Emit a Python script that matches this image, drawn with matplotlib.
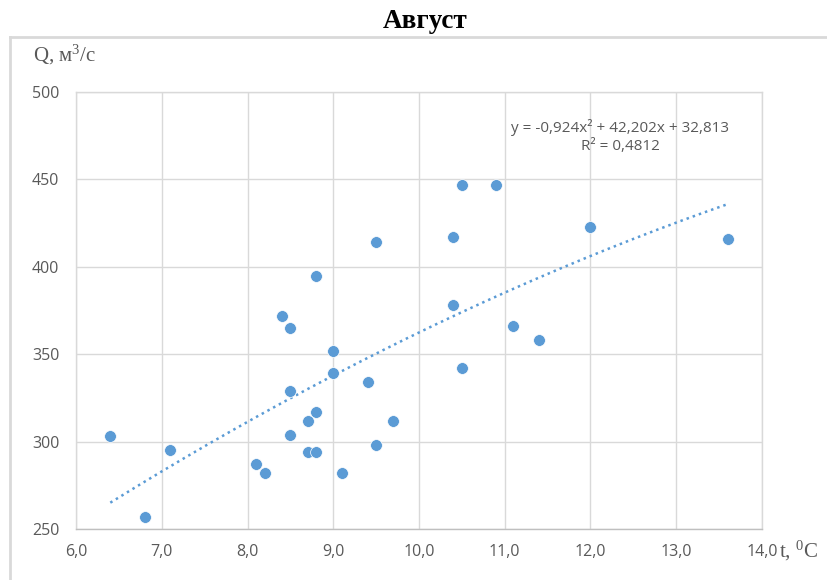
import matplotlib
matplotlib.use("Agg")
import matplotlib.pyplot as plt
from matplotlib.lines import Line2D
import numpy as np

title = "Август"
t_values = [6.4, 6.8, 7.1, 8.1, 8.2, 8.4, 8.5, 8.5, 8.5, 8.8, 8.8, 8.7, 8.7, 8.8, 9.0,
            9.0, 9.1, 9.4, 9.5, 9.5, 9.7, 10.4, 10.4, 10.5, 10.5, 10.9, 11.1, 11.4, 12.0, 13.6]
q_values = [303, 257, 295, 287, 282, 372, 365, 329, 304, 395, 317, 312, 294, 294, 352,
            339, 282, 334, 414, 298, 312, 417, 378, 447, 342, 447, 366, 358, 423, 416]
trend_coef = [-0.924, 42.202, 32.813]
r2 = 0.4812
x_ticks = [6.0, 7.0, 8.0, 9.0, 10.0, 11.0, 12.0, 13.0, 14.0]
y_ticks = [250, 300, 350, 400, 450, 500]

blue = "#5B9BD5"
grey_txt = "#595959"
grid_c = "#D9D9D9"

fig = plt.figure(figsize=(8.28, 5.8), dpi=100)
ax = fig.add_axes([76/828, 1-529/580, (762-76)/828, (529-92)/580])

ax.scatter(t_values, q_values, s=72, color=blue, edgecolors="white", linewidths=0.5, zorder=3)

xt = np.linspace(min(t_values), max(t_values), 200)
yt = np.polyval(trend_coef, xt)
ax.plot(xt, yt, linestyle=(0, (1, 1.6)), color=blue, linewidth=1.8, zorder=2)

ax.set_xlim(6.0, 14.0)
ax.set_ylim(250, 500)
ax.set_xticks(x_ticks)
ax.set_yticks(y_ticks)
ax.set_xticklabels([f"{v:.1f}".replace(".", ",") for v in x_ticks],
                   fontfamily="Open Sans", fontsize=11.5, color=grey_txt)
ax.set_yticklabels([str(v) for v in y_ticks],
                   fontfamily="Open Sans", fontsize=11.5, color=grey_txt)
ax.tick_params(axis="x", length=0, pad=11)
ax.tick_params(axis="y", length=0, pad=12)
ax.grid(True, color=grid_c, linewidth=1.0)
ax.set_axisbelow(True)
for sp in ax.spines.values():
    sp.set_color(grid_c)
    sp.set_linewidth(1.0)
ax.spines["bottom"].set_color("#BFBFBF")

# equation
a, b, c = trend_coef
eq = "y = {}x² + {}x + {}".format(f"{a:.3f}".replace(".", ","), f"{b:.3f}".replace(".", ","),
                                   f"{c:.3f}".replace(".", ","))
fig.text(620/828, 1-127/580, eq, ha="center", va="center", fontsize=11,
         fontfamily="Open Sans", color=grey_txt)
fig.text(620/828, 1-147/580, "R² = " + f"{r2:.4f}".replace(".", ","), ha="center", va="center",
         fontsize=11, fontfamily="Open Sans", color=grey_txt)

# title and axis labels
fig.text(425/828, 1-21/580, title, ha="center", va="center", fontsize=19.5,
         fontweight="bold", fontfamily="Liberation Serif", color="black")
fig.text(33/828, 1-55/580, r"Q, м$\mathregular{^3}$/с", ha="left", va="center", fontsize=15,
         fontfamily="Liberation Serif", color=grey_txt)
fig.text(779/828, 1-551/580, r"t, $\mathregular{^0}$C", ha="left", va="center", fontsize=15,
         fontfamily="Liberation Serif", color=grey_txt)

# outer chart frame
fig.add_artist(Line2D([10/828, 10/828], [0, 1-37/580], transform=fig.transFigure,
                      color=grid_c, linewidth=2))
fig.add_artist(Line2D([10/828, 1], [1-37/580, 1-37/580], transform=fig.transFigure,
                      color=grid_c, linewidth=2))

fig.savefig("out.png", dpi=100)
